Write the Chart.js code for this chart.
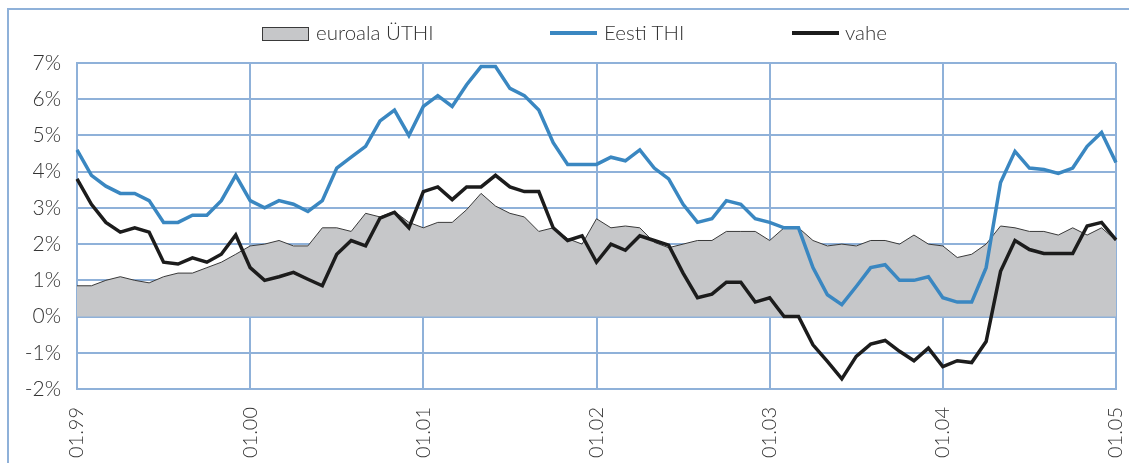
<!DOCTYPE html>
<html>
<head>
<meta charset="utf-8">
<script src="https://cdn.jsdelivr.net/npm/chart.js@4/dist/chart.umd.min.js"></script>
<style>
  body { margin: 0; background: #fff; }
  #wrap { position: relative; width: 1129px; height: 463px; overflow: hidden; }
  .leg { position: absolute; top: 20px; font: 300 20.5px Lato, sans-serif; color: #333; white-space: nowrap; }
  .sw { position: absolute; }
</style>
</head>
<body>
<div id="wrap">
  <canvas id="chart" width="1129" height="463"></canvas>
</div>
<script>
// andmed (kuu kaupa 01.99 ... 01.05)
var years = ['99', '00', '01', '02', '03', '04', '05']
var tickLabels = ['01.99', '01.00', '01.01', '01.02', '01.03', '01.04', '01.05']
var euroala = [0.85, 0.85, 1.0, 1.1, 1.0, 0.93, 1.1, 1.2, 1.2, 1.35, 1.5, 1.72,
  1.95, 2.0, 2.1, 1.95, 1.95, 2.45, 2.45, 2.35, 2.85, 2.75, 2.9, 2.6,
  2.45, 2.6, 2.6, 2.95, 3.4, 3.05, 2.85, 2.75, 2.35, 2.45, 2.15, 2.0,
  2.7, 2.45, 2.5, 2.45, 2.05, 1.9, 2.0, 2.1, 2.1, 2.35, 2.35, 2.35,
  2.1, 2.45, 2.45, 2.1, 1.95, 2.0, 1.95, 2.1, 2.1, 2.0, 2.25, 2.0,
  1.95, 1.63, 1.72, 2.0, 2.5, 2.45, 2.35, 2.35, 2.25, 2.45, 2.25, 2.45,
  2.1]
var eesti = [4.6, 3.9, 3.6, 3.4, 3.4, 3.2, 2.6, 2.6, 2.8, 2.8, 3.2, 3.9,
  3.2, 3.0, 3.2, 3.1, 2.9, 3.2, 4.1, 4.4, 4.7, 5.4, 5.7, 5.0,
  5.8, 6.1, 5.8, 6.4, 6.9, 6.9, 6.3, 6.1, 5.7, 4.8, 4.2, 4.2,
  4.2, 4.4, 4.3, 4.6, 4.1, 3.8, 3.1, 2.6, 2.7, 3.2, 3.1, 2.7,
  2.6, 2.45, 2.45, 1.35, 0.6, 0.33, 0.83, 1.35, 1.43, 1.0, 1.0, 1.1,
  0.52, 0.4, 0.4, 1.35, 3.7, 4.56, 4.1, 4.06, 3.95, 4.1, 4.7, 5.08,
  4.25]
var vahe = [3.8, 3.1, 2.6, 2.33, 2.45, 2.33, 1.5, 1.45, 1.62, 1.5, 1.72, 2.25,
  1.35, 1.0, 1.1, 1.22, 1.03, 0.85, 1.72, 2.1, 1.95, 2.72, 2.88, 2.45,
  3.45, 3.58, 3.23, 3.58, 3.58, 3.9, 3.58, 3.45, 3.45, 2.45, 2.1, 2.23,
  1.5, 2.0, 1.83, 2.23, 2.1, 1.97, 1.2, 0.52, 0.62, 0.95, 0.95, 0.4,
  0.52, 0.0, 0.0, -0.78, -1.24, -1.72, -1.1, -0.76, -0.66, -0.96, -1.22, -0.87,
  -1.38, -1.22, -1.27, -0.69, 1.25, 2.1, 1.85, 1.74, 1.74, 1.74, 2.5, 2.6,
  2.12]

// kuud sildideks
var months = []
years.forEach((y, i) => {
  for (let m = 1; m <= 12; m++) {
    if (i === years.length - 1 && m > 1) break
    months.push((m < 10 ? '0' + m : '' + m) + '.' + y)
  }
})

var gridCol = '#8fb1d9'
var textCol = '#333'

// raam ümber joonise (ainult vasak ja ülemine serv paistavad)
const framePlugin = {
  id: 'frame',
  beforeDraw(chart) {
    const c = chart.ctx
    c.save()
    c.strokeStyle = gridCol
    c.lineWidth = 2
    c.beginPath()
    c.moveTo(8, 470)
    c.lineTo(8, 9)
    c.lineTo(1135, 9)
    c.stroke()
    c.restore()
  }
}

const config = {
  type: 'line',
  data: {
    labels: months,
    datasets: [{
      label: 'euroala ÜTHI',
      data: euroala,
      fill: 'origin',
      backgroundColor: '#c6c7c9',
      borderColor: '#3a3a3a',
      borderWidth: 1,
      order: 3
    },
    {
      label: 'Eesti THI',
      data: eesti,
      fill: false,
      borderColor: '#3a87c1',
      borderWidth: 3.5,
      order: 2
    },
    {
      label: 'vahe',
      data: vahe,
      fill: false,
      borderColor: '#1c1c1c',
      borderWidth: 3.5,
      order: 1
    }]
  },
  options: {
    responsive: false,
    animation: false,
    elements: { point: { radius: 0 }, line: { tension: 0, borderJoinStyle: 'miter' } },
    layout: { padding: { top: 63, right: 13, left: 0, bottom: 0 } },
    plugins: {
      legend: { display: false },
      tooltip: { enabled: false }
    },
    scales: {
      x: {
        afterFit: (s) => { s.height = 74; s.paddingRight = 0; s.paddingLeft = 0 },
        grid: { color: gridCol, lineWidth: 2, drawTicks: false },
        border: { color: gridCol, width: 2 },
        ticks: {
          autoSkip: false,
          minRotation: 90,
          maxRotation: 90,
          padding: 18,
          color: textCol,
          font: { family: 'Lato', size: 20, weight: '300' },
          callback: function (val, idx) {
            return idx % 12 === 0 ? tickLabels[idx / 12] : null
          }
        }
      },
      y: {
        min: -2,
        max: 7,
        afterFit: (s) => { s.width = 77 },
        grid: { color: gridCol, lineWidth: 2, drawTicks: false },
        border: { color: gridCol, width: 2 },
        ticks: {
          stepSize: 1,
          padding: 16,
          color: textCol,
          font: { family: 'Lato', size: 21, weight: '300' },
          callback: (v) => v + '%'
        }
      }
    }
  },
  plugins: [framePlugin]
}

var MyChart = new Chart(document.getElementById('chart').getContext('2d'), config)

// legend (HTML, kohad nagu originaalis)
var legendPos = [
  { sw: 262, swW: 47, text: 316, kind: 'box' },
  { sw: 550, swW: 47, text: 604, kind: 'line' },
  { sw: 792, swW: 47, text: 845, kind: 'line' }
]
var wrap = document.getElementById('wrap')
MyChart.data.datasets.forEach((ds, i) => {
  const p = legendPos[i]
  const sw = document.createElement('div')
  sw.className = 'sw'
  sw.style.left = p.sw + 'px'
  sw.style.width = p.swW + 'px'
  if (p.kind === 'box') {
    sw.style.top = '27px'
    sw.style.height = '14px'
    sw.style.background = ds.backgroundColor
    sw.style.border = '1px solid ' + ds.borderColor
    sw.style.boxSizing = 'border-box'
  } else {
    sw.style.top = '31px'
    sw.style.height = '4px'
    sw.style.background = ds.borderColor
  }
  wrap.appendChild(sw)
  const t = document.createElement('div')
  t.className = 'leg'
  t.style.left = p.text + 'px'
  t.textContent = ds.label
  wrap.appendChild(t)
})
</script>
</body>
</html>
